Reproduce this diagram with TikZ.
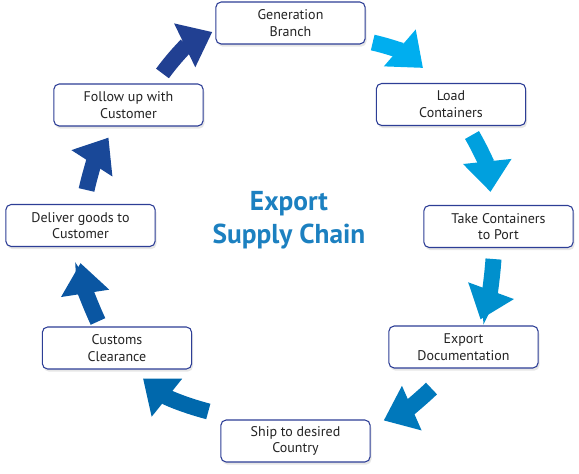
\documentclass[tikz,border=0pt]{standalone}
\usepackage{fontspec}
\setmainfont{PT Sans}
\usetikzlibrary{arrows.meta,shadows}
\definecolor{boxline}{RGB}{45,62,150}
\definecolor{boxtext}{RGB}{35,35,35}
\definecolor{titleblue}{RGB}{28,128,192}
\definecolor{arrA}{RGB}{0,174,239}
\definecolor{arrB}{RGB}{0,160,222}
\definecolor{arrC}{RGB}{0,144,205}
\definecolor{arrD}{RGB}{0,120,187}
\definecolor{arrE}{RGB}{0,104,172}
\definecolor{arrF}{RGB}{10,86,162}
\definecolor{arrG}{RGB}{25,72,152}
\definecolor{arrH}{RGB}{33,64,146}
\tikzset{
  stagebox/.style={draw=boxline, line width=0.8pt, rounded corners=4pt, fill=white,
    minimum width=112pt, minimum height=31.5pt, align=center, text=boxtext,
    font=\fontsize{10.5}{12.5}\selectfont, inner sep=2pt,
    drop shadow={opacity=0.2, shadow xshift=1pt, shadow yshift=-2pt}},
  fatarrow/.style={line width=12pt, -{Triangle[length=23pt,width=35pt]}}
}
\begin{document}
\begin{tikzpicture}[x=0.75pt,y=-0.75pt]
\useasboundingbox (0,0) rectangle (579,474);
% Stage boxes
\node[stagebox] (gen) at (290.5,23) {Generation\\Branch};
\node[stagebox] (load) at (451,104.5) {Load\\Containers};
\node[stagebox] (port) at (498.5,226.5) {Take Containers\\to Port};
\node[stagebox] (docs) at (463.5,347) {Export\\Documentation};
\node[stagebox] (ship) at (295.5,441) {Ship to desired\\Country};
\node[stagebox] (customs) at (117,348) {Customs\\Clearance};
\node[stagebox] (deliver) at (80.5,225.5) {Deliver goods to\\Customer};
\node[stagebox] (follow) at (128.5,105) {Follow up with\\Customer};
% Title
\node[text=titleblue, font=\fontsize{20.5}{25}\selectfont\bfseries, align=center] (title) at (289,220) {Export\\Supply Chain};
% Arrows
\draw[fatarrow, arrA] ([shift={(7,-2)}]gen.south east) to[bend left=14] ([shift={(-28,-15)}]load.north);
\draw[fatarrow, arrB] ([shift={(21,9)}]load.south) to[bend left=12] ([shift={(-8,-13)}]port.north);
\draw[fatarrow, arrC] ([shift={(-5,11)}]port.south) to[bend left=8] ([shift={(17,-6)}]docs.north);
\draw[fatarrow, arrD] ([shift={(-32,20)}]docs.south) to[bend left=10] ([shift={(13,1)}]ship.north east);
\draw[fatarrow, arrE] ([shift={(-12,-8)}]ship.north west) to[bend left=12] ([shift={(26,9)}]customs.south);
\draw[fatarrow, arrF] ([shift={(-19,-5)}]customs.north) to[bend left=8] ([shift={(0,16)}]deliver.south);
\draw[fatarrow, arrG] ([shift={(6,-14)}]deliver.north) to[bend left=10] ([shift={(-20,11)}]follow.south);
\draw[fatarrow, arrH] ([shift={(34,-10)}]follow.north) to[bend left=14] ([shift={(-3,9)}]gen.west);
\end{tikzpicture}
\end{document}
